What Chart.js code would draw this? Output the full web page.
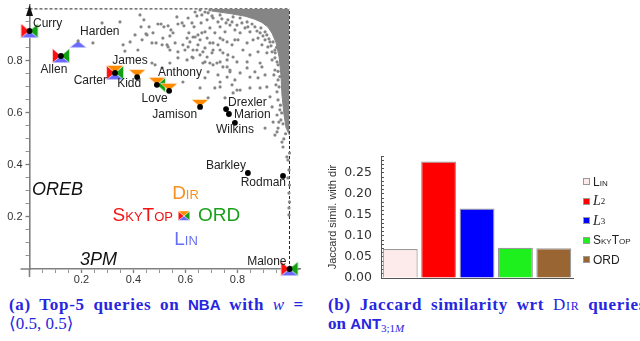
<!DOCTYPE html>
<html>
<head>
<meta charset="utf-8">
<script src="https://cdn.jsdelivr.net/npm/chart.js@4.4.0/dist/chart.umd.min.js"></script>
<style>
  body { margin: 0; width: 640px; height: 341px; background: #fff; position: relative; overflow: hidden;
         font-family: "Liberation Sans", Arial, sans-serif; }
  #left { position: absolute; left: 0; top: 0; }
  #right { position: absolute; left: 320px; top: 150px; }
  #legend { position: absolute; left: 583px; top: 172px; font-size: 12px; color: #222; }
  #legend .item { height: 19.5px; display: flex; align-items: center; white-space: nowrap; }
  #legend .sw { width: 5px; height: 5px; border: 1px solid #999; margin-right: 3px; }
  .sc { font-variant: small-caps; }
  .ell { font-family: "Liberation Serif", serif; font-size: 14px; }
  #legend sub { font-size: 9px; font-family: "Liberation Serif", serif; }
  .cap { position: absolute; color: #2626e0; font-family: "Liberation Serif", "DejaVu Serif", serif;
         font-weight: bold; font-size: 17px; line-height: 19px; white-space: nowrap; }
  .just { white-space: normal; text-align: justify; text-align-last: justify; letter-spacing: 0.7px; }
  .ds { font-family: "Liberation Sans", Arial, sans-serif; font-size: 15px; letter-spacing: 0; }
  .cap .m { font-weight: normal; font-style: italic; }
  .cap .dir { font-variant: small-caps; font-weight: normal; }
  .cap sub { font-size: 11px; font-weight: normal; vertical-align: -3px; }
</style>
</head>
<body>
<canvas id="left" width="320" height="292"></canvas>
<canvas id="right" width="320" height="140"></canvas>
<div id="legend"></div>
<div class="cap just" style="left:9px;top:295px;width:295px">(a) Top-5 queries on <span class="ds">NBA</span> with <span class="m">w</span> =</div>
<div class="cap" style="left:9px;top:314px;font-weight:normal">⟨0.5, 0.5⟩</div>
<div class="cap just" style="left:328px;top:295px;width:318px">(b) Jaccard similarity wrt <span class="dir">Dir</span> queries</div>
<div class="cap" style="left:328px;top:314px">on <span class="ds">ANT</span><sub>3;1<i>M</i></sub></div>
<script>
// ---------- data ----------
// (a) NBA players, normalised 3PM (x) and OREB (y)
const players = ['Curry', 'Harden', 'Allen', 'Carter', 'Kidd', 'Anthony', 'Love', 'Jamison',
  'Drexler', 'Marion', 'Wilkins', 'Barkley', 'Rodman', 'Malone'];
const threePM = [0, 0.187, 0.121, 0.329, 0.414, 0.49, 0.537, 0.656, 0.756, 0.767, 0.79, 0.84, 0.975, 1.0];
const oreb = [0.915, 0.877, 0.819, 0.754, 0.738, 0.708, 0.685, 0.623, 0.615, 0.596, 0.562, 0.369, 0.358, 0];

// top-5 answers of each query type
const dirTop = ['Carter', 'Kidd', 'Anthony', 'Love', 'Jamison'];
const linTop = ['Curry', 'Harden', 'Allen', 'Carter', 'Malone'];
const ordTop = ['Curry', 'Allen', 'Carter', 'Anthony', 'Malone'];
const skyTop = ['Curry', 'Allen', 'Carter', 'Malone'];

// rest of the players [3PM, OREB]
const cloud = [
  [0.244,0.869],[0.279,0.946],[0.348,0.950],
  [0.425,0.977],[0.440,0.958],[0.460,0.931],[0.429,0.931],[0.406,0.900],[0.387,0.873],[0.367,0.838],
  [0.417,0.842],[0.448,0.904],[0.475,0.908],[0.494,0.942],[0.506,0.942],[0.517,0.931],[0.533,0.935],
  [0.544,0.919],[0.552,0.908],[0.567,0.969],[0.571,0.942],[0.587,0.946],[0.594,0.935],[0.610,0.965],
  [0.625,0.946],[0.633,0.931],[0.644,0.973],[0.613,0.908],[0.606,0.888],[0.617,0.873],[0.629,0.892],
  [0.648,0.900],[0.533,0.854],[0.540,0.842],[0.529,0.862],[0.571,0.835],[0.598,0.842],[0.625,0.815],
  [0.644,0.842],[0.483,0.785],[0.510,0.773],[0.513,0.888],
  [0.452,0.900],[0.540,0.896],[0.560,0.869],[0.510,0.862],[0.487,0.869],[0.471,0.869],[0.433,0.881],
  [0.360,0.862],[0.590,0.862],[0.610,0.854],[0.629,0.842],[0.648,0.862],[0.656,0.881],[0.637,0.892],
  [0.663,0.908],[0.683,0.888],[0.694,0.869],[0.675,0.850],[0.706,0.842],[0.725,0.862],[0.733,0.888],
  [0.760,0.873],[0.779,0.862],[0.790,0.881],[0.744,0.831],[0.763,0.823],[0.783,0.815],[0.798,0.796],
  [0.683,0.815],[0.656,0.823],[0.629,0.812],[0.606,0.804],[0.571,0.812],[0.540,0.792],[0.471,0.792],
  [0.667,0.792],[0.706,0.785],[0.733,0.796],[0.760,0.777],[0.687,0.758],
  [0.590,0.719],[0.733,0.719],[0.760,0.738],[0.771,0.758],[0.790,0.727],[0.733,0.700],[0.713,0.696],
  [0.656,0.696],[0.798,0.688],[0.687,0.658],[0.752,0.658],[0.783,0.677],
  [0.660,0.946],[0.675,0.912],[0.694,0.927],[0.713,0.908],[0.733,0.931],[0.752,0.912],[0.771,0.938],
  [0.790,0.919],[0.810,0.908],[0.829,0.927],[0.848,0.912],[0.867,0.931],[0.887,0.908],[0.906,0.912],
  [0.706,0.869],[0.744,0.881],[0.802,0.881],[0.837,0.869],[0.860,0.881],[0.894,0.862],[0.925,0.873],
  [0.667,0.835],[0.702,0.831],[0.733,0.842],[0.821,0.842],[0.848,0.823],[0.879,0.835],[0.913,0.831],
  [0.944,0.842],[0.675,0.796],[0.721,0.792],[0.760,0.804],[0.837,0.796],[0.887,0.792],[0.933,0.804],
  [0.956,0.785],[0.663,0.977],[0.687,0.985],[0.706,0.965],[0.733,0.977],[0.783,0.969],[0.683,0.958],
  [0.725,0.950],[0.763,0.958],[0.810,0.965],[0.837,0.950],
  [0.694,0.792],[0.675,0.735],[0.725,0.746],[0.744,0.777],[0.771,0.765],[0.810,0.754],[0.837,0.773],
  [0.848,0.738],[0.867,0.758],[0.879,0.735],[0.894,0.777],[0.906,0.746],[0.913,0.700],[0.887,0.696],
  [0.848,0.696],[0.810,0.688],[0.779,0.708],[0.925,0.662],[0.933,0.623],[0.952,0.592],[0.937,0.565],
  [0.956,0.542],[0.952,0.681],[0.956,0.727],[0.944,0.765],
  [0.944,0.515],[0.952,0.527],[0.971,0.488],[0.975,0.469],[1.0,0.446],[0.990,0.431],[0.994,0.419],
  [0.998,0.381],[0.994,0.350],[1.0,0.323],[0.998,0.292],[1.0,0.258],[0.998,0.235],[0.998,0.208],
  [0.637,0.988],[0.656,0.996],[0.675,0.988],[0.694,0.996],[0.879,0.888],[0.906,0.881],[0.917,0.854],
  [0.933,0.835],[0.944,0.812],[0.940,0.746],[0.948,0.708],[0.956,0.650],[0.963,0.612],[0.967,0.573],
  [0.906,0.542],
  [0.702,0.973],[0.740,0.962],[0.756,0.946],[0.779,0.950],[0.798,0.938],[0.817,0.946],[0.840,0.931],
  [0.856,0.942],[0.875,0.915],[0.890,0.927],[0.898,0.896],[0.913,0.900],[0.921,0.885],[0.929,0.858],
  [0.937,0.873],[0.945,0.831],[0.950,0.852],[0.952,0.796],[0.956,0.760],[0.960,0.700],[0.963,0.740],
  [0.965,0.630],[0.970,0.600],[0.975,0.558],[0.959,0.565],[0.985,0.520],[0.978,0.500]
];
// lower edge of the solid corner of the cloud (solid up to OREB = 1)
const cloudEdge = [[0.70,0.992],[0.771,0.982],[0.829,0.972],[0.867,0.96],[0.894,0.948],[0.917,0.93],
  [0.933,0.906],[0.948,0.871],[0.96,0.815],[0.967,0.746],[0.971,0.669],[0.979,0.592],[0.987,0.542],[1.0,0.515]];
const frameMax = 1;
const tickLabelsA = [0.2, 0.4, 0.6, 0.8];

// (b) Jaccard similarity with DIR
const methods = ['Lin', 'L2', 'L3', 'SkyTop', 'ORD'];
const jaccard = [0.069, 0.277, 0.165, 0.072, 0.0705];
const tickLabelsB = [0, 0.05, 0.1, 0.15, 0.2, 0.25];

// ---------- styles ----------
Chart.defaults.font.family = '"Liberation Sans", Arial, sans-serif';
const GREY = '#858585';
const barColors = ['#fdeaea', '#ff0000', '#0000ff', '#1ef01e', '#996633'];
const legendHtml = {
  Lin: '<span class="sc">Lin</span>',
  L2: '<i class="ell">L</i><sub>2</sub>',
  L3: '<i class="ell">L</i><sub>3</sub>',
  SkyTop: '<span class="sc">SkyTop</span>',
  ORD: 'ORD'
};
// label, anchor player, dx, dy, align (pixels)
const nameTags = [
  ['Curry', 'Curry', 3.5, -7, 'left'], ['Harden', 'Harden', 2, -9, 'left'],
  ['Allen', 'Allen', -7, 14, 'center'], ['Carter', 'Carter', -8, 8, 'right'],
  ['James', 'Carter', 15, -12, 'center'], ['Kidd', 'Kidd', -8, 7, 'center'],
  ['Anthony', 'Anthony', 1, -12, 'left'], ['Love', 'Love', -14.5, 8, 'center'],
  ['Jamison', 'Jamison', -3, 8, 'right'], ['Drexler', 'Drexler', 2, -6, 'left'],
  ['Marion', 'Marion', 5, 1, 'left'], ['Wilkins', 'Wilkins', 0, 7, 'center'],
  ['Barkley', 'Barkley', -2, -7, 'right'], ['Rodman', 'Rodman', 3, 7, 'right'],
  ['Malone', 'Malone', -3, -7, 'right']
];

// one quarter of the square marker, apex on the point
function quarter(color, side, s) {
  const c = document.createElement('canvas');
  c.width = c.height = 22;
  const g = c.getContext('2d');
  const m = 11, w = 8.5 * s, h = 7.5 * s;
  g.beginPath();
  g.moveTo(m, m);
  if (side === 'left') { g.lineTo(m - w, m - h); g.lineTo(m - w, m + h); }
  if (side === 'right') { g.lineTo(m + w, m - h); g.lineTo(m + w, m + h); }
  if (side === 'top') { g.lineTo(m - w, m - h); g.lineTo(m + w, m - h); }
  if (side === 'bottom') { g.lineTo(m - w, m + h * 0.9); g.lineTo(m + w, m + h * 0.9); }
  g.closePath();
  g.fillStyle = color;
  g.fill();
  g.strokeStyle = '#fff';
  g.lineWidth = 0.5;
  g.stroke();
  return c;
}
const COL = { sky: '#ff1010', ord: '#12a012', dir: '#ff8a00', lin: '#6a6aff' };
const mk = { sky: quarter(COL.sky, 'left', 1), ord: quarter(COL.ord, 'right', 1),
             dir: quarter(COL.dir, 'top', 1), lin: quarter(COL.lin, 'bottom', 1) };
const mkSmall = { sky: quarter(COL.sky, 'left', 0.68), ord: quarter(COL.ord, 'right', 0.68),
                  dir: quarter(COL.dir, 'top', 0.68), lin: quarter(COL.lin, 'bottom', 0.68) };

const pt = name => ({ x: threePM[players.indexOf(name)], y: oreb[players.indexOf(name)] });
const isIn = (v, list) => list.some(t => Math.abs(t - v) < 1e-6);

// axis arrows and the short overhang past the origin
const arrows = {
  id: 'arrows',
  beforeDatasetsDraw(chart) {
    const { ctx, chartArea: a } = chart;
    ctx.save();
    ctx.strokeStyle = '#808080';
    ctx.lineWidth = 1.6;
    ctx.beginPath();
    ctx.moveTo(a.left - 9, a.bottom); ctx.lineTo(a.left, a.bottom);
    ctx.moveTo(a.left, a.bottom); ctx.lineTo(a.left, a.bottom + 8);
    ctx.stroke();
    ctx.fillStyle = '#111';
    ctx.beginPath();
    ctx.moveTo(a.left, a.top); ctx.lineTo(a.left - 3.5, a.top + 11); ctx.lineTo(a.left + 3.5, a.top + 11);
    ctx.closePath(); ctx.fill();
    ctx.beginPath();
    ctx.moveTo(a.right, a.bottom); ctx.lineTo(a.right - 11, a.bottom - 3.5); ctx.lineTo(a.right - 11, a.bottom + 3.5);
    ctx.closePath(); ctx.fill();
    ctx.restore();
  }
};

// player names, axis names and the marker key
const annotate = {
  id: 'annotate',
  afterDatasetsDraw(chart) {
    const { ctx, scales: { x, y } } = chart;
    ctx.save();
    ctx.font = '12px "Liberation Sans", Arial, sans-serif';
    ctx.fillStyle = '#222';
    ctx.textBaseline = 'middle';
    nameTags.forEach(([label, anchor, dx, dy, align]) => {
      const p = pt(anchor);
      ctx.textAlign = align;
      ctx.fillText(label, x.getPixelForValue(p.x) + dx, y.getPixelForValue(p.y) + dy);
    });
    ctx.font = 'italic 18px "Liberation Sans", Arial, sans-serif';
    ctx.fillStyle = '#111';
    ctx.textAlign = 'left';
    ctx.fillText('OREB', 32, 190);
    ctx.fillText('3PM', 80, 260);
    // key
    const kx = 184, ky = 216;
    ['sky', 'ord', 'dir', 'lin'].forEach(k => ctx.drawImage(mkSmall[k], kx - 11, ky - 11));
    ctx.font = 'small-caps 19px "Liberation Sans", Arial, sans-serif';
    ctx.textAlign = 'center'; ctx.fillStyle = '#f7901e'; ctx.fillText('Dir', kx + 1.5, ky - 22);
    ctx.fillStyle = '#6670f5'; ctx.fillText('Lin', kx + 2, ky + 24);
    ctx.textAlign = 'right'; ctx.fillStyle = '#f01414'; ctx.fillText('SkyTop', kx - 11, ky);
    ctx.textAlign = 'left'; ctx.fillStyle = '#1aa01a'; ctx.fillText('ORD', kx + 14, ky);
    ctx.restore();
  }
};

new Chart(document.getElementById('left'), {
  type: 'scatter',
  data: {
    datasets: [
      { data: players.map(pt), clip: false, borderWidth: 0,
        pointRadius: c => players[c.dataIndex] === 'Harden' ? 1.6 : 2.9,
        backgroundColor: c => players[c.dataIndex] === 'Harden' ? GREY : '#000' },
      { data: linTop.map(pt), pointStyle: mk.lin, pointRadius: 3, clip: false },
      { data: dirTop.map(pt), pointStyle: mk.dir, pointRadius: 3, clip: false },
      { data: ordTop.map(pt), pointStyle: mk.ord, pointRadius: 3, clip: false },
      { data: skyTop.map(pt), pointStyle: mk.sky, pointRadius: 3, clip: false },
      { data: cloud.map(([x, y]) => ({ x, y })), pointRadius: 1.6, backgroundColor: GREY, borderWidth: 0, clip: false },
      { type: 'line', data: cloudEdge.map(([x, y]) => ({ x, y })), fill: { value: frameMax },
        backgroundColor: GREY, borderColor: GREY, borderWidth: 1, pointRadius: 0, clip: false },
      { type: 'line', data: [{ x: 0, y: frameMax }, { x: frameMax, y: frameMax }], borderColor: '#222',
        borderWidth: 1, borderDash: [3, 2], pointRadius: 0, fill: false, clip: false },
      { type: 'line', data: [{ x: frameMax, y: 0 }, { x: frameMax, y: frameMax }], borderColor: '#222',
        borderWidth: 1, borderDash: [3, 2], pointRadius: 0, fill: false, clip: false }
    ]
  },
  options: {
    responsive: false, animation: false, devicePixelRatio: 1,
    layout: { padding: { top: 5, right: 20, left: 0, bottom: 0 } },
    plugins: { legend: { display: false }, tooltip: { enabled: false } },
    scales: {
      x: {
        type: 'linear', min: 0, max: 1.0404,
        afterFit: s => { s.height = 23; s.paddingLeft = s.paddingRight = 0; },
        ticks: { stepSize: 0.05, includeBounds: false, autoSkip: false, maxRotation: 0, padding: 0,
                 color: '#333', font: { size: 11 },
                 callback: v => isIn(v, tickLabelsA) ? v.toFixed(1) : '' },
        grid: { drawOnChartArea: false, tickLength: 4,
                tickColor: c => (c.tick && c.tick.value > 0.01 && c.tick.value < 1.01) ? '#7a7a7a' : 'rgba(0,0,0,0)',
                tickWidth: c => (c.tick && isIn(c.tick.value, tickLabelsA)) ? 1.3 : 0.8 },
        border: { color: '#808080', width: 1.6 }
      },
      y: {
        type: 'linear', min: 0, max: 1.015,
        afterFit: s => { s.width = 29.5; s.paddingTop = s.paddingBottom = 0; },
        ticks: { stepSize: 0.05, includeBounds: false, autoSkip: false, padding: 3,
                 color: '#333', font: { size: 11 },
                 callback: v => isIn(v, tickLabelsA) ? v.toFixed(1) : '' },
        grid: { drawOnChartArea: false, tickLength: 4,
                tickColor: c => (c.tick && c.tick.value > 0.01 && c.tick.value < 1.01) ? '#7a7a7a' : 'rgba(0,0,0,0)',
                tickWidth: c => (c.tick && isIn(c.tick.value, tickLabelsA)) ? 1.3 : 0.8 },
        border: { color: '#808080', width: 1.6 }
      }
    }
  },
  plugins: [arrows, annotate]
});

new Chart(document.getElementById('right'), {
  type: 'bar',
  data: {
    labels: methods,
    datasets: [{ data: jaccard, backgroundColor: barColors, borderColor: '#9a9a9a', borderWidth: 1.2,
                 barPercentage: 0.91, categoryPercentage: 1 }]
  },
  options: {
    responsive: false, animation: false, devicePixelRatio: 1,
    layout: { padding: { top: 6, right: 67, left: 0, bottom: 0 } },
    plugins: { legend: { display: false }, tooltip: { enabled: false } },
    scales: {
      x: {
        afterFit: s => { s.height = 12; s.paddingLeft = s.paddingRight = 0; },
        ticks: { display: false }, grid: { display: false },
        border: { color: '#555', width: 1 }
      },
      y: {
        min: 0, max: 0.29,
        afterFit: s => { s.width = 61; s.paddingTop = s.paddingBottom = 0; },
        ticks: { stepSize: 0.01, autoSkip: false, padding: 12, color: '#333',
                 font: { size: 12.5, family: '"DejaVu Sans", sans-serif' },
                 callback: v => isIn(v, tickLabelsB) ? v.toFixed(2) : '' },
        grid: { drawOnChartArea: false, tickLength: -3, color: '#555' },
        border: { color: '#555', width: 1 },
        title: { display: true, text: 'Jaccard simil. with dir', color: '#333', font: { size: 11 },
                 padding: { top: 6, bottom: 0 } }
      }
    }
  }
});

// legend of (b)
document.getElementById('legend').innerHTML = methods.map((m, i) =>
  `<div class="item"><span class="sw" style="background:${barColors[i]}"></span>${legendHtml[m]}</div>`).join('');
</script>
</body>
</html>
